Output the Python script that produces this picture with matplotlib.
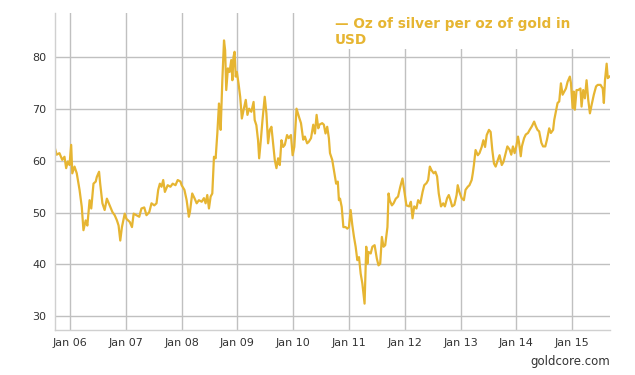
import numpy as np
import matplotlib
matplotlib.use("Agg")
import matplotlib.pyplot as plt
from matplotlib.patches import Rectangle

# silver/gold ratio (decimal years)
years = [
    2005.72, 2005.76, 2005.81, 2005.86, 2005.90, 2005.93, 2005.96, 2005.99, 2006.02, 2006.04,
    2006.08, 2006.12, 2006.17, 2006.21, 2006.24, 2006.28, 2006.31, 2006.35, 2006.38, 2006.42,
    2006.46, 2006.48, 2006.52, 2006.54, 2006.58, 2006.62, 2006.66, 2006.71, 2006.76, 2006.80,
    2006.84, 2006.87, 2006.90, 2006.93, 2006.98, 2007.01, 2007.07, 2007.11, 2007.14, 2007.19,
    2007.24, 2007.28, 2007.33, 2007.37, 2007.42, 2007.46, 2007.51, 2007.55, 2007.58, 2007.61,
    2007.64, 2007.67, 2007.70, 2007.75, 2007.80, 2007.84, 2007.89, 2007.93, 2007.98,
    2008.00, 2008.05, 2008.09, 2008.13, 2008.15, 2008.19, 2008.23, 2008.27, 2008.31, 2008.36,
    2008.40, 2008.43, 2008.46, 2008.49, 2008.52, 2008.55, 2008.58, 2008.61, 2008.64, 2008.67,
    2008.68, 2008.70, 2008.73, 2008.76, 2008.78, 2008.80, 2008.83, 2008.86, 2008.89, 2008.91,
    2008.93, 2008.95, 2008.97, 2008.99, 2009.02, 2009.05, 2009.08, 2009.11, 2009.15, 2009.18,
    2009.21, 2009.25, 2009.29, 2009.31, 2009.34, 2009.37, 2009.39, 2009.42, 2009.45, 2009.49,
    2009.52, 2009.55, 2009.58, 2009.61, 2009.64, 2009.67, 2009.70, 2009.73, 2009.76, 2009.79,
    2009.82, 2009.85, 2009.89, 2009.92, 2009.96, 2009.99, 2010.02, 2010.06,
    2010.11, 2010.14, 2010.18, 2010.21, 2010.25, 2010.28, 2010.32, 2010.36, 2010.39, 2010.42,
    2010.45, 2010.47, 2010.52, 2010.55, 2010.58, 2010.61, 2010.64, 2010.66, 2010.70, 2010.74,
    2010.77, 2010.80, 2010.82, 2010.84, 2010.87, 2010.90, 2010.94, 2010.97, 2011.00, 2011.03,
    2011.06, 2011.09, 2011.12, 2011.15, 2011.18, 2011.21, 2011.24, 2011.26, 2011.28, 2011.31,
    2011.33, 2011.35, 2011.39, 2011.42, 2011.46, 2011.50, 2011.53, 2011.56, 2011.59, 2011.62,
    2011.65, 2011.69, 2011.71, 2011.73, 2011.77, 2011.80, 2011.84, 2011.88, 2011.92, 2011.96,
    2011.99, 2012.03,
    2012.08, 2012.11, 2012.14, 2012.17, 2012.21, 2012.24, 2012.28, 2012.32, 2012.35, 2012.39,
    2012.42, 2012.45, 2012.48, 2012.52, 2012.55, 2012.58, 2012.61, 2012.65, 2012.69, 2012.72,
    2012.76, 2012.79, 2012.82, 2012.85, 2012.89, 2012.93, 2012.95, 2012.98, 2013.02, 2013.06,
    2013.09, 2013.13, 2013.16, 2013.20, 2013.22, 2013.24, 2013.27, 2013.31, 2013.34, 2013.38,
    2013.41, 2013.44, 2013.47, 2013.51, 2013.54, 2013.57, 2013.60, 2013.63, 2013.67, 2013.70,
    2013.74, 2013.77,
    2013.84, 2013.88, 2013.91, 2013.94, 2013.97, 2014.00, 2014.03, 2014.05, 2014.08, 2014.10,
    2014.14, 2014.17, 2014.21, 2014.24, 2014.28, 2014.32, 2014.35, 2014.38, 2014.41, 2014.45,
    2014.48, 2014.52, 2014.55, 2014.59, 2014.62, 2014.66, 2014.68, 2014.71, 2014.74, 2014.77,
    2014.80, 2014.83, 2014.86, 2014.89, 2014.92, 2014.96, 2014.98, 2015.01, 2015.03, 2015.05,
    2015.08, 2015.11, 2015.15, 2015.17, 2015.20, 2015.23, 2015.26, 2015.29, 2015.32, 2015.35,
    2015.39, 2015.43, 2015.46, 2015.51, 2015.55, 2015.57, 2015.59, 2015.62, 2015.64, 2015.67,
]
ratio = [
    62.8, 61.2, 61.5, 60.2, 60.8, 58.6, 59.9, 59.2, 63.1, 57.6,
    58.9, 57.6, 54.4, 51.1, 46.6, 48.5, 47.5, 52.4, 50.8, 55.6,
    56.0, 56.9, 57.9, 55.6, 51.8, 50.5, 52.7, 51.4, 50.1, 49.5,
    48.5, 47.5, 44.6, 47.2, 49.8, 48.8, 48.2, 47.2, 49.8, 49.5,
    49.2, 50.8, 51.0, 49.5, 50.1, 51.8, 51.4, 51.8, 54.4, 55.6,
    55.0, 56.3, 54.0, 55.3, 55.0, 55.6, 55.3, 56.3, 56.0,
    55.3, 54.4, 52.4, 49.2, 50.2, 53.7, 52.8, 51.8, 52.4, 52.1,
    52.8, 51.8, 53.4, 50.8, 53.1, 53.7, 60.8, 60.5, 65.3, 71.1,
    69.8, 66.0, 75.6, 83.3, 81.4, 73.7, 77.9, 77.2, 79.5, 75.6,
    80.1, 81.1, 76.3, 77.2, 75.0, 72.4, 68.2, 69.8, 71.8, 68.9,
    70.1, 69.5, 71.4, 67.9, 66.9, 64.0, 60.5, 64.0, 67.9, 72.4,
    69.2, 63.4, 66.0, 66.6, 63.4, 60.2, 58.6, 60.5, 59.2, 64.0,
    62.7, 63.1, 65.0, 64.4, 65.0, 61.1, 62.7, 70.1,
    68.3, 67.3, 64.1, 64.7, 63.4, 63.7, 64.4, 67.0, 65.3, 68.9,
    66.3, 67.0, 67.3, 67.0, 65.3, 66.6, 64.4, 61.5, 60.2, 57.6,
    55.6, 56.0, 52.4, 52.7, 51.1, 47.2, 47.2, 46.9, 47.2, 50.5,
    47.6, 45.3, 43.4, 40.8, 41.4, 38.2, 36.3, 34.3, 32.4, 43.4,
    40.1, 42.4, 42.1, 43.4, 43.7, 41.1, 39.8, 40.1, 45.3, 43.4,
    43.7, 47.2, 53.7, 52.4, 51.4, 51.8, 52.7, 53.1, 55.0, 56.6,
    54.4, 51.4,
    51.2, 52.1, 48.9, 51.2, 50.8, 52.4, 51.8, 54.0, 55.3, 55.7,
    56.3, 58.9, 58.2, 57.6, 57.9, 57.0, 53.7, 51.2, 51.8, 51.2,
    52.8, 53.4, 52.4, 51.2, 51.5, 53.4, 55.3, 54.0, 52.8, 52.4,
    54.4, 55.0, 55.3, 56.3, 57.6, 59.2, 62.1, 61.1, 61.5, 62.7,
    64.0, 62.7, 65.0, 66.0, 65.6, 62.1, 59.5, 58.9, 60.2, 61.1,
    59.2, 59.8,
    62.8, 62.2, 61.2, 62.8, 61.5, 62.8, 64.7, 63.5, 60.9, 62.8,
    64.4, 65.1, 65.4, 66.0, 66.7, 67.6, 66.7, 66.0, 65.7, 63.5,
    62.8, 62.8, 64.1, 66.3, 65.4, 66.0, 67.9, 69.6, 71.2, 71.5,
    75.0, 72.8, 73.4, 74.0, 75.3, 76.3, 75.0, 70.2, 73.4, 69.9,
    73.7, 73.7, 74.0, 70.5, 73.7, 72.1, 75.6, 71.8, 69.2, 70.8,
    72.8, 74.4, 74.7, 74.7, 74.0, 71.2, 75.6, 78.8, 76.0, 76.3,
]

tick_years = list(range(2006, 2016))
tick_labels = ["Jan %02d" % (y % 100) for y in tick_years]
y_ticks = [30, 40, 50, 60, 70, 80]

gold = "#E6B532"
grid_col = "#c0c0c0"
text_col = "#333333"

fig = plt.figure(figsize=(6.35, 3.75), dpi=100)
ax = fig.add_axes([55 / 635, 45 / 375, 555 / 635, 317 / 375])

ax.plot(years, ratio, color=gold, linewidth=1.6, solid_joinstyle="round")

ax.set_xlim(2005.73, 2015.68)
ax.set_ylim(27.3, 88.6)
ax.set_xticks(tick_years)
ax.set_xticklabels(tick_labels)
ax.set_yticks(y_ticks)

ax.grid(True, color=grid_col, linewidth=1.0)
ax.set_axisbelow(True)
for side in ["top", "right"]:
    ax.spines[side].set_visible(False)
for side in ["left", "bottom"]:
    ax.spines[side].set_color("#d0d0d0")
    ax.spines[side].set_linewidth(1.0)
ax.tick_params(length=0, labelsize=8, colors=text_col, pad=6)

# legend box sits on top of the plot area and hides the grid there
fig.patches.append(Rectangle((328 / 635, 1 - 49 / 375), 307 / 635, 49 / 375,
                             transform=fig.transFigure, facecolor="white",
                             edgecolor="none", zorder=2))
fig.text(335 / 635, 1 - 32 / 375, "\u2014 Oz of silver per oz of gold in\nUSD",
         color=gold, fontsize=9.8, fontweight="bold", ha="left", va="center",
         linespacing=1.25, zorder=3)
fig.text(610 / 635, 1 - 362 / 375, "goldcore.com", color=text_col, fontsize=8.5,
         ha="right", va="center")

fig.savefig("out.png", dpi=100)
